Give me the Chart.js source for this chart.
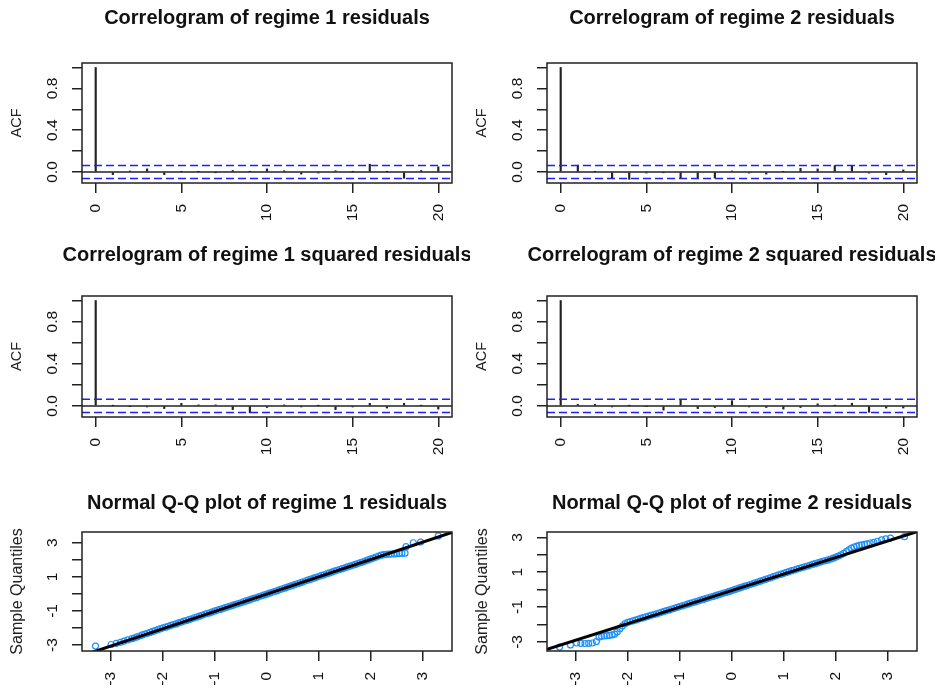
<!DOCTYPE html>
<html>
<head>
<meta charset="utf-8">
<script src="https://cdn.jsdelivr.net/npm/chart.js@4.4.1/dist/chart.umd.min.js"></script>
<style>
  body { margin: 0; background: #fff; width: 940px; height: 687px; overflow: hidden; position: relative; }
  canvas { position: absolute; }
</style>
</head>
<body>
<canvas id="acfRes1"></canvas>
<canvas id="acfRes2"></canvas>
<canvas id="acfSq1"></canvas>
<canvas id="acfSq2"></canvas>
<canvas id="qq1"></canvas>
<canvas id="qq2"></canvas>
<script>
// ---- data ----
var lags = [0, 1, 2, 3, 4, 5, 6, 7, 8, 9, 10, 11, 12, 13, 14, 15, 16, 17, 18, 19, 20];
var acfRes1 = [1, -0.025, 0.01, 0.03, -0.025, 0.003, 0.002, -0.002, 0.015, 0.004, 0.03, 0.012, -0.02, -0.01, 0.012, 0.002, 0.075, 0.003, -0.06, 0.015, 0.05];
var acfRes2 = [1, 0.065, 0.003, -0.055, -0.07, -0.01, -0.003, -0.058, -0.058, -0.058, 0.01, -0.01, -0.02, 0.004, 0.035, 0.03, 0.062, 0.062, -0.01, -0.025, 0.02];
var acfSq1 = [1, 0.002, -0.003, -0.01, -0.025, 0.025, 0.01, 0.01, -0.035, -0.065, -0.015, 0.01, -0.01, 0.002, -0.035, -0.01, 0.025, -0.02, 0.025, 0.003, -0.03];
var acfSq2 = [1, 0.015, 0.015, -0.01, 0.002, -0.002, -0.04, 0.055, -0.025, -0.015, 0.05, -0.01, -0.015, -0.03, -0.015, 0.02, 0.003, 0.025, -0.06, -0.02, -0.02];
var ciBound = 0.063;

var lagTicks = [0, 5, 10, 15, 20];
var acfTicksY = [0, 0.2, 0.4, 0.6, 0.8, 1.0];
var acfLabelsY = [0, 0.4, 0.8];
var acfLabelTextY = ['0.0', '0.4', '0.8'];

// normal Q-Q: theoretical quantiles (x) and sample quantiles (y)
var qq1X = [-3.30, -3.00, -2.90, -2.82, -2.75, -2.68,
  -2.60, -2.55, -2.50, -2.45, -2.40, -2.35, -2.30, -2.25, -2.20, -2.15, -2.10, -2.05,
  -2.00, -1.95, -1.90, -1.85, -1.80, -1.75, -1.70, -1.65, -1.60, -1.55,
  -1.50, -1.45, -1.40, -1.35, -1.30, -1.25, -1.20, -1.15, -1.10, -1.05,
  -1.00, -0.95, -0.90, -0.85, -0.80, -0.75, -0.70, -0.65, -0.60, -0.55,
  -0.50, -0.45, -0.40, -0.35, -0.30, -0.25, -0.20, -0.15, -0.10, -0.05,
  0.00,
  0.05, 0.10, 0.15, 0.20, 0.25, 0.30, 0.35, 0.40, 0.45, 0.50,
  0.55, 0.60, 0.65, 0.70, 0.75, 0.80, 0.85, 0.90, 0.95, 1.00,
  1.05, 1.10, 1.15, 1.20, 1.25, 1.30, 1.35, 1.40, 1.45, 1.50,
  1.55, 1.60, 1.65, 1.70, 1.75, 1.80, 1.85, 1.90, 1.95, 2.00,
  2.05, 2.10, 2.15, 2.20, 2.25, 2.30, 2.35, 2.40, 2.45, 2.50, 2.55, 2.60,
  2.66, 2.68, 2.82, 2.96, 3.30];
var qq1Y = [-3.06, -2.97, -2.90, -2.84, -2.77, -2.70,
  -2.63, -2.58, -2.52, -2.47, -2.41, -2.36, -2.31, -2.26, -2.20, -2.15, -2.10, -2.04,
  -1.99, -1.95, -1.90, -1.85, -1.80, -1.76, -1.70, -1.66, -1.60, -1.56,
  -1.51, -1.46, -1.40, -1.36, -1.31, -1.26, -1.20, -1.15, -1.11, -1.05,
  -1.00, -0.95, -0.91, -0.86, -0.81, -0.76, -0.71, -0.66, -0.61, -0.57,
  -0.52, -0.46, -0.41, -0.37, -0.31, -0.26, -0.22, -0.16, -0.11, -0.06,
  -0.01,
  0.04, 0.09, 0.14, 0.19, 0.25, 0.30, 0.35, 0.40, 0.45, 0.50,
  0.56, 0.61, 0.66, 0.71, 0.77, 0.82, 0.87, 0.92, 0.97, 1.02,
  1.08, 1.12, 1.18, 1.23, 1.28, 1.33, 1.38, 1.43, 1.48, 1.53,
  1.58, 1.63, 1.68, 1.73, 1.78, 1.83, 1.88, 1.94, 1.99, 2.05,
  2.10, 2.16, 2.22, 2.27, 2.30, 2.32, 2.33, 2.34, 2.35, 2.36, 2.37, 2.38,
  2.39, 2.77, 3.00, 3.04, 3.40];

var qq2X = [-3.31, -3.10, -2.98, -2.90, -2.82, -2.75, -2.68,
  -2.60, -2.55, -2.50, -2.45, -2.40, -2.35, -2.30, -2.25, -2.20, -2.15, -2.10, -2.05,
  -2.00, -1.95, -1.90, -1.85, -1.80, -1.75, -1.70, -1.65, -1.60, -1.55,
  -1.50, -1.45, -1.40, -1.35, -1.30, -1.25, -1.20, -1.15, -1.10, -1.05,
  -1.00, -0.95, -0.90, -0.85, -0.80, -0.75, -0.70, -0.65, -0.60, -0.55,
  -0.50, -0.45, -0.40, -0.35, -0.30, -0.25, -0.20, -0.15, -0.10, -0.05,
  0.00,
  0.05, 0.10, 0.15, 0.20, 0.25, 0.30, 0.35, 0.40, 0.45, 0.50,
  0.55, 0.60, 0.65, 0.70, 0.75, 0.80, 0.85, 0.90, 0.95, 1.00,
  1.05, 1.10, 1.15, 1.20, 1.25, 1.30, 1.35, 1.40, 1.45, 1.50,
  1.55, 1.60, 1.65, 1.70, 1.75, 1.80, 1.85, 1.90, 1.95, 2.00,
  2.05, 2.10, 2.15, 2.20, 2.25, 2.30, 2.35, 2.40, 2.45, 2.50, 2.55, 2.60,
  2.66, 2.73, 2.80, 2.88, 2.96, 3.05, 3.32];
var qq2Y = [-3.29, -3.17, -3.06, -3.08, -3.09, -3.08, -3.06,
  -2.98, -2.72, -2.68, -2.66, -2.64, -2.62, -2.59, -2.55, -2.42, -2.24, -2.08, -1.95,
  -1.87, -1.83, -1.79, -1.75, -1.70, -1.65, -1.61, -1.56, -1.52, -1.47,
  -1.43, -1.39, -1.34, -1.30, -1.25, -1.20, -1.16, -1.11, -1.07, -1.02,
  -0.97, -0.93, -0.88, -0.83, -0.79, -0.74, -0.70, -0.65, -0.60, -0.56,
  -0.51, -0.47, -0.42, -0.38, -0.33, -0.29, -0.24, -0.19, -0.15, -0.10,
  -0.05,
  0.00, 0.05, 0.10, 0.15, 0.20, 0.24, 0.29, 0.34, 0.39, 0.44,
  0.49, 0.54, 0.59, 0.64, 0.69, 0.75, 0.80, 0.85, 0.89, 0.94,
  0.99, 1.04, 1.09, 1.13, 1.18, 1.22, 1.27, 1.31, 1.36, 1.40,
  1.45, 1.49, 1.54, 1.58, 1.63, 1.67, 1.71, 1.76, 1.81, 1.87,
  1.93, 2.00, 2.08, 2.18, 2.28, 2.38, 2.45, 2.50, 2.54, 2.57, 2.60, 2.63,
  2.68, 2.72, 2.78, 2.86, 2.92, 2.96, 3.04];

// qqline: intercept, slope
var qqLine1 = [-0.01, 1.015];
var qqLine2 = [-0.05, 0.95];

var qqTicks = [-3, -2, -1, 0, 1, 2, 3];
var qqLabelsY = [-3, -1, 1, 3];
var qqLabelTextY = ['-3', '-1', '1', '3'];

// axis limits
var lagLim = [-0.8, 20.8];
var acfLim = [-0.105, 1.043];
var qq1XLim = [-3.56, 3.565], qq1YLim = [-3.35, 3.63];
var qq2XLim = [-3.55, 3.56], qq2YLim = [-3.52, 3.31];

// ---- layout ----
var FONT = '"Liberation Sans", Arial, sans-serif';
Chart.defaults.font.family = FONT;
Chart.defaults.color = '#111';
var colLeft = [0, 465];
var rowTop = [0, 233, 469];
var boxH = [120, 121, 119];
var titleY = [18, 22, 34];

// box, main title and rotated y tick labels, R style
var rPlot = {
  id: 'rPlot',
  afterDraw: function (chart, args, o) {
    var ctx = chart.ctx, a = chart.chartArea, ys = chart.scales.y;
    ctx.save();
    ctx.strokeStyle = '#222';
    ctx.lineWidth = 1.5;
    ctx.strokeRect(a.left, a.top, a.right - a.left, a.bottom - a.top);
    ctx.fillStyle = '#111';
    ctx.textAlign = 'center';
    ctx.textBaseline = 'middle';
    ctx.font = 'bold 20px ' + FONT;
    ctx.fillText(o.title, (a.left + a.right) / 2, o.titleY);
    ctx.font = '15.5px ' + FONT;
    for (var i = 0; i < o.labels.length; i++) {
      ctx.save();
      ctx.translate(a.left - 29.5, ys.getPixelForValue(o.labels[i]));
      ctx.rotate(-Math.PI / 2);
      ctx.fillText(o.labelText[i], 0, 0);
      ctx.restore();
    }
    ctx.restore();
  }
};

function place(id, row, col) {
  var c = document.getElementById(id);
  c.width = 470;
  c.height = 63 + boxH[row] + 52;
  c.style.left = colLeft[col] + 'px';
  c.style.top = rowTop[row] + 'px';
  return c;
}

function axisOpts(lim, ticks, isX, yTitle, titleSize) {
  var o = {
    type: 'linear',
    min: lim[0],
    max: lim[1],
    offset: false,
    afterBuildTicks: function (s) { s.ticks = ticks.map(function (v) { return { value: v }; }); },
    grid: { drawOnChartArea: false, drawTicks: true, tickLength: 10, color: '#222', lineWidth: 1.5, offset: false },
    border: { display: false }
  };
  if (isX) {
    o.afterFit = function (s) { s.height = 52; };
    o.ticks = { minRotation: 90, maxRotation: 90, padding: 11, color: '#111', font: { size: 15.5 } };
  } else {
    o.afterFit = function (s) { s.width = 82; };
    o.ticks = { display: false };
    o.title = { display: true, text: yTitle, color: '#222', font: { size: titleSize }, padding: { top: 8, bottom: 0 } };
  }
  return o;
}

function baseOptions(row, title, xAxis, yAxis, labels, labelText) {
  return {
    responsive: false,
    animation: false,
    layout: { padding: { top: 63, right: 18, left: 0, bottom: 0 } },
    plugins: {
      legend: { display: false },
      tooltip: { enabled: false },
      rPlot: { title: title, titleY: titleY[row], labels: labels, labelText: labelText }
    },
    scales: { x: xAxis, y: yAxis }
  };
}

function acfChart(id, acf, title, row, col) {
  var c = place(id, row, col);
  return new Chart(c, {
    type: 'bar',
    data: {
      datasets: [
        { type: 'line', data: [{ x: lagLim[0], y: ciBound }, { x: lagLim[1], y: ciBound }],
          borderColor: '#1f1fff', borderWidth: 1.5, borderDash: [8, 4], pointRadius: 0, order: 0 },
        { type: 'line', data: [{ x: lagLim[0], y: -ciBound }, { x: lagLim[1], y: -ciBound }],
          borderColor: '#1f1fff', borderWidth: 1.5, borderDash: [8, 4], pointRadius: 0, order: 0 },
        { type: 'line', data: [{ x: lagLim[0], y: 0 }, { x: lagLim[1], y: 0 }],
          borderColor: '#222', borderWidth: 1.5, pointRadius: 0, order: 1 },
        { type: 'bar', data: lags.map(function (l, i) { return { x: l, y: acf[i] }; }),
          backgroundColor: '#222', barThickness: 1.5, order: 2 }
      ]
    },
    options: baseOptions(row, title, axisOpts(lagLim, lagTicks, true),
      axisOpts(acfLim, acfTicksY, false, 'ACF', 14.5), acfLabelsY, acfLabelTextY),
    plugins: [rPlot]
  });
}

function qqChart(id, xs, ys, line, xLim, yLim, title, row, col) {
  var c = place(id, row, col);
  return new Chart(c, {
    type: 'scatter',
    data: {
      datasets: [
        { type: 'line', data: [{ x: xLim[0], y: line[0] + line[1] * xLim[0] }, { x: xLim[1], y: line[0] + line[1] * xLim[1] }],
          borderColor: '#000', borderWidth: 3, pointRadius: 0, order: 0 },
        { data: xs.map(function (x, i) { return { x: x, y: ys[i] }; }),
          pointStyle: 'circle', pointRadius: 3, borderColor: '#1e90ff', backgroundColor: 'rgba(0,0,0,0)',
          pointBorderWidth: 1.2, order: 1 }
      ]
    },
    options: baseOptions(row, title, axisOpts(xLim, qqTicks, true),
      axisOpts(yLim, qqTicks, false, 'Sample Quantiles', 16), qqLabelsY, qqLabelTextY),
    plugins: [rPlot]
  });
}

acfChart('acfRes1', acfRes1, 'Correlogram of regime 1 residuals', 0, 0);
acfChart('acfRes2', acfRes2, 'Correlogram of regime 2 residuals', 0, 1);
acfChart('acfSq1', acfSq1, 'Correlogram of regime 1 squared residuals', 1, 0);
acfChart('acfSq2', acfSq2, 'Correlogram of regime 2 squared residuals', 1, 1);
qqChart('qq1', qq1X, qq1Y, qqLine1, qq1XLim, qq1YLim, 'Normal Q-Q plot of regime 1 residuals', 2, 0);
qqChart('qq2', qq2X, qq2Y, qqLine2, qq2XLim, qq2YLim, 'Normal Q-Q plot of regime 2 residuals', 2, 1);
</script>
</body>
</html>
